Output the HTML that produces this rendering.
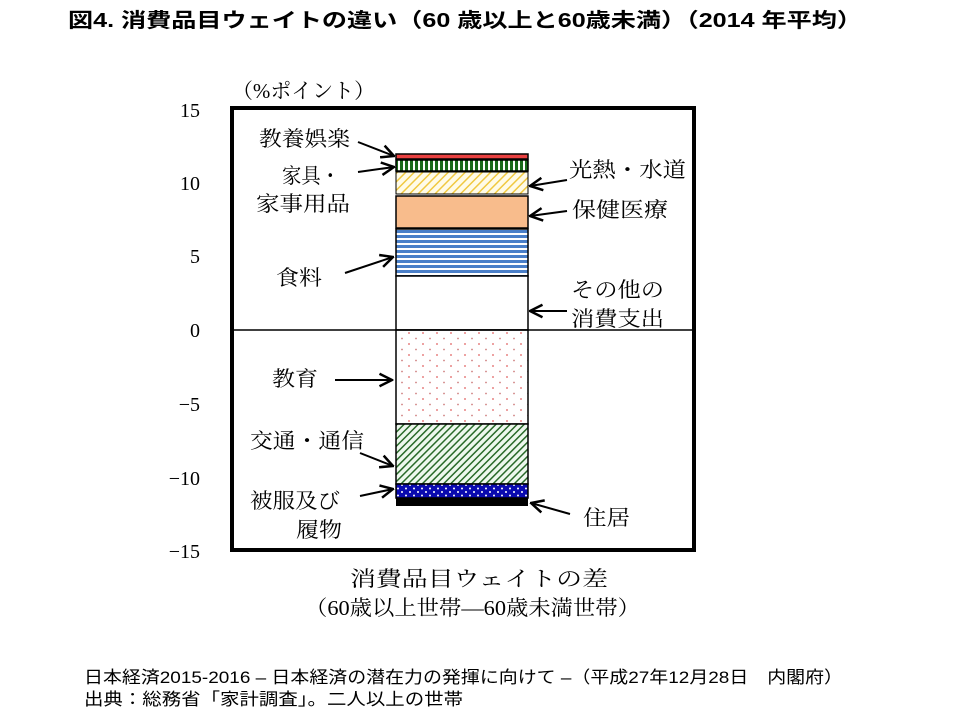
<!DOCTYPE html>
<html><head><meta charset="utf-8"><style>
body{margin:0;width:960px;height:720px;background:#fff;overflow:hidden}
svg{position:absolute;left:0;top:0}
.t{font-family:"Liberation Serif","Noto Serif CJK SC",serif;font-size:21px;fill:#000}
.f{font-family:"Liberation Sans","Noto Sans CJK JP",sans-serif;font-size:17px;fill:#000}
</style></head><body>
<svg width="960" height="720" xmlns="http://www.w3.org/2000/svg">
<defs>
<pattern id="vs" width="5" height="12" patternUnits="userSpaceOnUse"><rect width="5" height="12" fill="#fff"/><rect width="3" height="12" fill="#1a6a1a"/></pattern>
<pattern id="yh" width="6" height="6" patternUnits="userSpaceOnUse" patternTransform="rotate(45)"><rect width="6" height="6" fill="#fffbe8"/><rect width="1.5" height="6" fill="#f0c840"/></pattern>
<pattern id="bs" width="10" height="5" patternUnits="userSpaceOnUse"><rect width="10" height="5" fill="#fff"/><rect width="10" height="3" fill="#4a7fc8"/></pattern>
<pattern id="rd" width="14" height="11" patternUnits="userSpaceOnUse"><rect width="14" height="11" fill="#fff"/><circle cx="3" cy="3" r="0.9" fill="#e06060"/><circle cx="10" cy="8.5" r="0.9" fill="#d08080"/></pattern>
<pattern id="gh" width="5" height="5" patternUnits="userSpaceOnUse" patternTransform="rotate(45)"><rect width="5" height="5" fill="#eef8ee"/><rect width="1.5" height="5" fill="#2a6a2a"/></pattern>
<pattern id="bd" width="8" height="7" patternUnits="userSpaceOnUse"><rect width="8" height="7" fill="#0a0ab0"/><circle cx="2" cy="2" r="1" fill="#fff"/><circle cx="6" cy="5.5" r="1" fill="#fff"/></pattern>
<marker id="a" viewBox="0 0 12 12" refX="11" refY="6" markerWidth="15" markerHeight="15" markerUnits="userSpaceOnUse" orient="auto"><path d="M1,1 L11,6 L1,11" fill="none" stroke="#000" stroke-width="2"/></marker>
</defs>
<text x="68" y="27" font-family="Liberation Sans,'Noto Sans CJK JP',sans-serif" font-size="20" font-weight="bold" textLength="794" lengthAdjust="spacingAndGlyphs">図4.  消費品目ウェイトの違い（60 歳以上と60歳未満）（2014 年平均）</text>
<g class="t">
<text x="232" y="98" textLength="143" lengthAdjust="spacingAndGlyphs">（%ポイント）</text>
</g>
<g class="t" text-anchor="end" style="font-size:20px">
<text x="200" y="117">15</text><text x="200" y="190">10</text><text x="200" y="263">5</text><text x="200" y="337">0</text>
<text x="200" y="411">−5</text><text x="200" y="485">−10</text><text x="200" y="558">−15</text>
</g>
<rect x="396" y="154" width="132" height="5" fill="#e84040" stroke="#000" stroke-width="1.5"/>
<rect x="396" y="160" width="132" height="11" fill="url(#vs)" stroke="#000" stroke-width="1.5"/>
<rect x="396" y="172" width="132" height="22" fill="url(#yh)" stroke="#000" stroke-width="1"/>
<rect x="396" y="196" width="132" height="32" fill="#f8bc8c" stroke="#000" stroke-width="1.5"/>
<rect x="396" y="229" width="132" height="47" fill="url(#bs)" stroke="#000" stroke-width="1.5"/>
<rect x="396" y="276" width="132" height="54" fill="#fff" stroke="#000" stroke-width="1.5"/>
<rect x="396" y="330" width="132" height="94" fill="url(#rd)" stroke="#000" stroke-width="1.5"/>
<rect x="396" y="424" width="132" height="60" fill="url(#gh)" stroke="#000" stroke-width="1.5"/>
<rect x="396" y="484" width="132" height="14" fill="url(#bd)" stroke="#000" stroke-width="1.5"/>
<rect x="396" y="498" width="132" height="8" fill="#000"/>
<line x1="231" y1="330" x2="695" y2="330" stroke="#000" stroke-width="1.5"/>
<rect x="232" y="108" width="462" height="442" fill="none" stroke="#000" stroke-width="4"/>
<g stroke="#000" stroke-width="2" fill="none" marker-end="url(#a)">
<line x1="358" y1="142" x2="394" y2="156"/>
<line x1="358" y1="172" x2="394" y2="167"/>
<line x1="345" y1="273" x2="393" y2="257"/>
<line x1="335" y1="380" x2="392" y2="380"/>
<line x1="360" y1="453" x2="393" y2="466"/>
<line x1="360" y1="496" x2="393" y2="489"/>
<line x1="567" y1="180" x2="530" y2="186"/>
<line x1="567" y1="211" x2="530" y2="216"/>
<line x1="567" y1="311" x2="530" y2="311"/>
<line x1="570" y1="514" x2="531" y2="503"/>
</g>
<g class="t" lengthAdjust="spacingAndGlyphs">
<text x="259" y="146" textLength="91" lengthAdjust="spacingAndGlyphs">教養娯楽</text>
<text x="282" y="183" textLength="58" lengthAdjust="spacingAndGlyphs">家具・</text>
<text x="256" y="211" textLength="94" lengthAdjust="spacingAndGlyphs">家事用品</text>
<text x="276" y="285" textLength="46" lengthAdjust="spacingAndGlyphs">食料</text>
<text x="272" y="386" textLength="46" lengthAdjust="spacingAndGlyphs">教育</text>
<text x="250" y="448" textLength="114" lengthAdjust="spacingAndGlyphs">交通・通信</text>
<text x="250" y="508" textLength="90" lengthAdjust="spacingAndGlyphs">被服及び</text>
<text x="296" y="537" textLength="46" lengthAdjust="spacingAndGlyphs">履物</text>
<text x="569" y="177" textLength="117" lengthAdjust="spacingAndGlyphs">光熱・水道</text>
<text x="572" y="217" textLength="96" lengthAdjust="spacingAndGlyphs">保健医療</text>
<text x="571" y="297" textLength="93" lengthAdjust="spacingAndGlyphs">その他の</text>
<text x="571" y="326" textLength="93" lengthAdjust="spacingAndGlyphs">消費支出</text>
<text x="583" y="525" textLength="47" lengthAdjust="spacingAndGlyphs">住居</text>
<text x="350" y="586" textLength="258" lengthAdjust="spacingAndGlyphs">消費品目ウェイトの差</text>
<text x="305" y="615" textLength="335" lengthAdjust="spacingAndGlyphs">（60歳以上世帯―60歳未満世帯）</text>
</g>
<text class="f" x="84" y="683" textLength="759" lengthAdjust="spacingAndGlyphs">日本経済2015-2016 – 日本経済の潜在力の発揮に向けて –（平成27年12月28日　内閣府）</text>
<text class="f" x="84" y="705" textLength="379" lengthAdjust="spacingAndGlyphs">出典：総務省「家計調査」。二人以上の世帯</text>
</svg>
</body></html>
